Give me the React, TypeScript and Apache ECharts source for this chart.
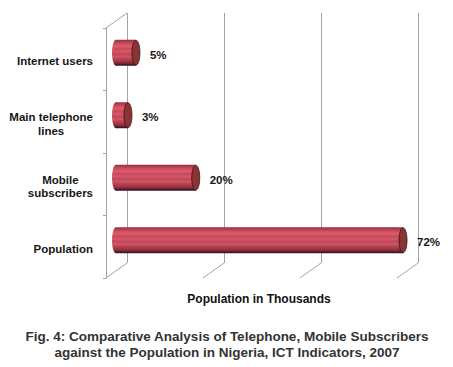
import React, { useEffect, useRef } from "react";
import * as echarts from "echarts";

const CATEGORIES = ["Internet users", "Main telephone\nlines", "Mobile\nsubscribers", "Population"];
const VALUES = [5, 3, 20, 72];
const VALUE_SUFFIX = "%";
const X_MAX = 73;
const X_SPLITS = 3;
const AXIS_TITLE = "Population in Thousands";
const CAPTION_LINES = [
  "Fig. 4: Comparative Analysis of Telephone, Mobile Subscribers",
  "against the Population in Nigeria, ICT Indicators, 2007",
];

const FONT = '"Liberation Sans", Arial, sans-serif';
const LINE = "#a3a3a3";
const DEPTH_X = -21;
const DEPTH_Y = 15;
const BAR_SHIFT_X = -11;
const BAR_SHIFT_Y = 8.5;
const BAR_H = 26;
const CAP_RX = 4;
const LABEL_GAP = 10;

export default function App() {
  const ref = useRef<HTMLDivElement>(null);
  useEffect(() => {
    if (!ref.current) return;
    const chart = echarts.init(ref.current, null, { renderer: "svg", width: 453, height: 367 });
    const bodyGrad = () =>
      new echarts.graphic.LinearGradient(0, 0, 0, 1, [
        { offset: 0, color: "#93303e" },
        { offset: 0.07, color: "#b03c4c" },
        { offset: 0.16, color: "#cf5060" },
        { offset: 0.26, color: "#dc5c6c" },
        { offset: 0.35, color: "#c44a5a" },
        { offset: 0.45, color: "#d65868" },
        { offset: 0.55, color: "#c04858" },
        { offset: 0.65, color: "#d05464" },
        { offset: 0.75, color: "#b44050" },
        { offset: 0.84, color: "#9c3444" },
        { offset: 0.91, color: "#7e2434" },
        { offset: 0.96, color: "#4a1520" },
        { offset: 1, color: "#1e1e30" },
      ]);
    const ticks = Array.from({ length: X_SPLITS + 1 }, (_, k) => [(k * X_MAX) / X_SPLITS, 0]);
    const option: any = {
      animation: false,
      backgroundColor: "#ffffff",
      grid: [
        { left: 127, top: 13, width: 291, height: 250 },
        { left: 106, top: 28, width: 291, height: 250 },
      ],
      xAxis: [
        {
          gridIndex: 0,
          type: "value",
          min: 0,
          max: X_MAX,
          interval: X_MAX / X_SPLITS,
          axisLine: { show: false },
          axisTick: { show: false },
          axisLabel: { show: false },
          splitLine: { show: true, lineStyle: { color: LINE, width: 1 } },
        },
        { gridIndex: 1, type: "value", min: 0, max: X_MAX, show: false },
      ],
      yAxis: [
        { gridIndex: 0, type: "category", data: CATEGORIES, inverse: true, show: false },
        {
          gridIndex: 1,
          type: "category",
          data: CATEGORIES,
          inverse: true,
          axisLine: { show: true, lineStyle: { color: LINE, width: 1 } },
          axisTick: { show: true, length: 3, lineStyle: { color: LINE } },
          splitLine: { show: false },
          axisLabel: {
            margin: 13,
            padding: [4, 0, 0, 0],
            formatter: (val: string) =>
              val
                .split("\n")
                .map((l) => `{c|${l}}`)
                .join("\n"),
            rich: {
              c: {
                align: "center",
                fontSize: 11.5,
                fontWeight: "bold",
                fontFamily: FONT,
                color: "#161616",
                lineHeight: 13.5,
              },
            },
          },
        },
      ],
      series: [
        {
          type: "custom",
          xAxisIndex: 0,
          yAxisIndex: 0,
          silent: true,
          z: 1,
          data: ticks,
          renderItem: (params: any, api: any) => {
            const v = api.value(0);
            const cs = params.coordSys;
            const x = api.coord([v, 0])[0];
            const yb = cs.y + cs.height;
            const children: any[] = [
              {
                type: "line",
                shape: { x1: x, y1: yb, x2: x + DEPTH_X, y2: yb + DEPTH_Y },
                style: { stroke: LINE, lineWidth: 1 },
              },
            ];
            if (v === 0) {
              children.push({
                type: "line",
                shape: { x1: x, y1: cs.y, x2: x + DEPTH_X, y2: cs.y + DEPTH_Y },
                style: { stroke: LINE, lineWidth: 1 },
              });
            }
            return { type: "group", children };
          },
        },
        {
          type: "custom",
          xAxisIndex: 0,
          yAxisIndex: 0,
          z: 3,
          data: VALUES.map((v, i) => [v, i]),
          renderItem: (params: any, api: any) => {
            const v = api.value(0);
            const c = api.value(1);
            const s = api.coord([0, c]);
            const e = api.coord([v, c]);
            const x0 = s[0] + BAR_SHIFT_X;
            const x1 = e[0] + BAR_SHIFT_X;
            const y = s[1] + BAR_SHIFT_Y;
            const h = BAR_H;
            return {
              type: "group",
              children: [
                { type: "ellipse", shape: { cx: x0, cy: y, rx: CAP_RX, ry: h / 2 }, style: { fill: bodyGrad() } },
                { type: "rect", shape: { x: x0, y: y - h / 2, width: x1 - x0, height: h }, style: { fill: bodyGrad() } },
                {
                  type: "ellipse",
                  shape: { cx: x1, cy: y, rx: CAP_RX, ry: h / 2 - 0.5 },
                  style: { fill: "#8a3434", stroke: "#3e1212", lineWidth: 0.8 },
                },
                {
                  type: "text",
                  x: x1 + CAP_RX + LABEL_GAP,
                  y: y + 2,
                  style: {
                    text: v + VALUE_SUFFIX,
                    fill: "#161616",
                    fontSize: 11.5,
                    fontWeight: "bold",
                    fontFamily: FONT,
                    align: "left",
                    verticalAlign: "middle",
                  },
                },
              ],
            };
          },
        },
      ],
      graphic: [
        {
          type: "text",
          x: 259,
          y: 299,
          style: {
            text: AXIS_TITLE,
            fill: "#111",
            fontSize: 12,
            fontWeight: "bold",
            fontFamily: FONT,
            align: "center",
            verticalAlign: "middle",
          },
        },
        {
          type: "text",
          x: 227,
          y: 344,
          style: {
            text: CAPTION_LINES.join("\n"),
            fill: "#333",
            fontSize: 13.5,
            fontWeight: "bold",
            fontFamily: FONT,
            lineHeight: 16,
            align: "center",
            verticalAlign: "middle",
          },
        },
      ],
    };
    chart.setOption(option);
    return () => chart.dispose();
  }, []);
  return (
    <div
      ref={ref}
      style={{ position: "fixed", left: 0, top: 0, width: 453, height: 367, background: "#fff" }}
    />
  );
}
